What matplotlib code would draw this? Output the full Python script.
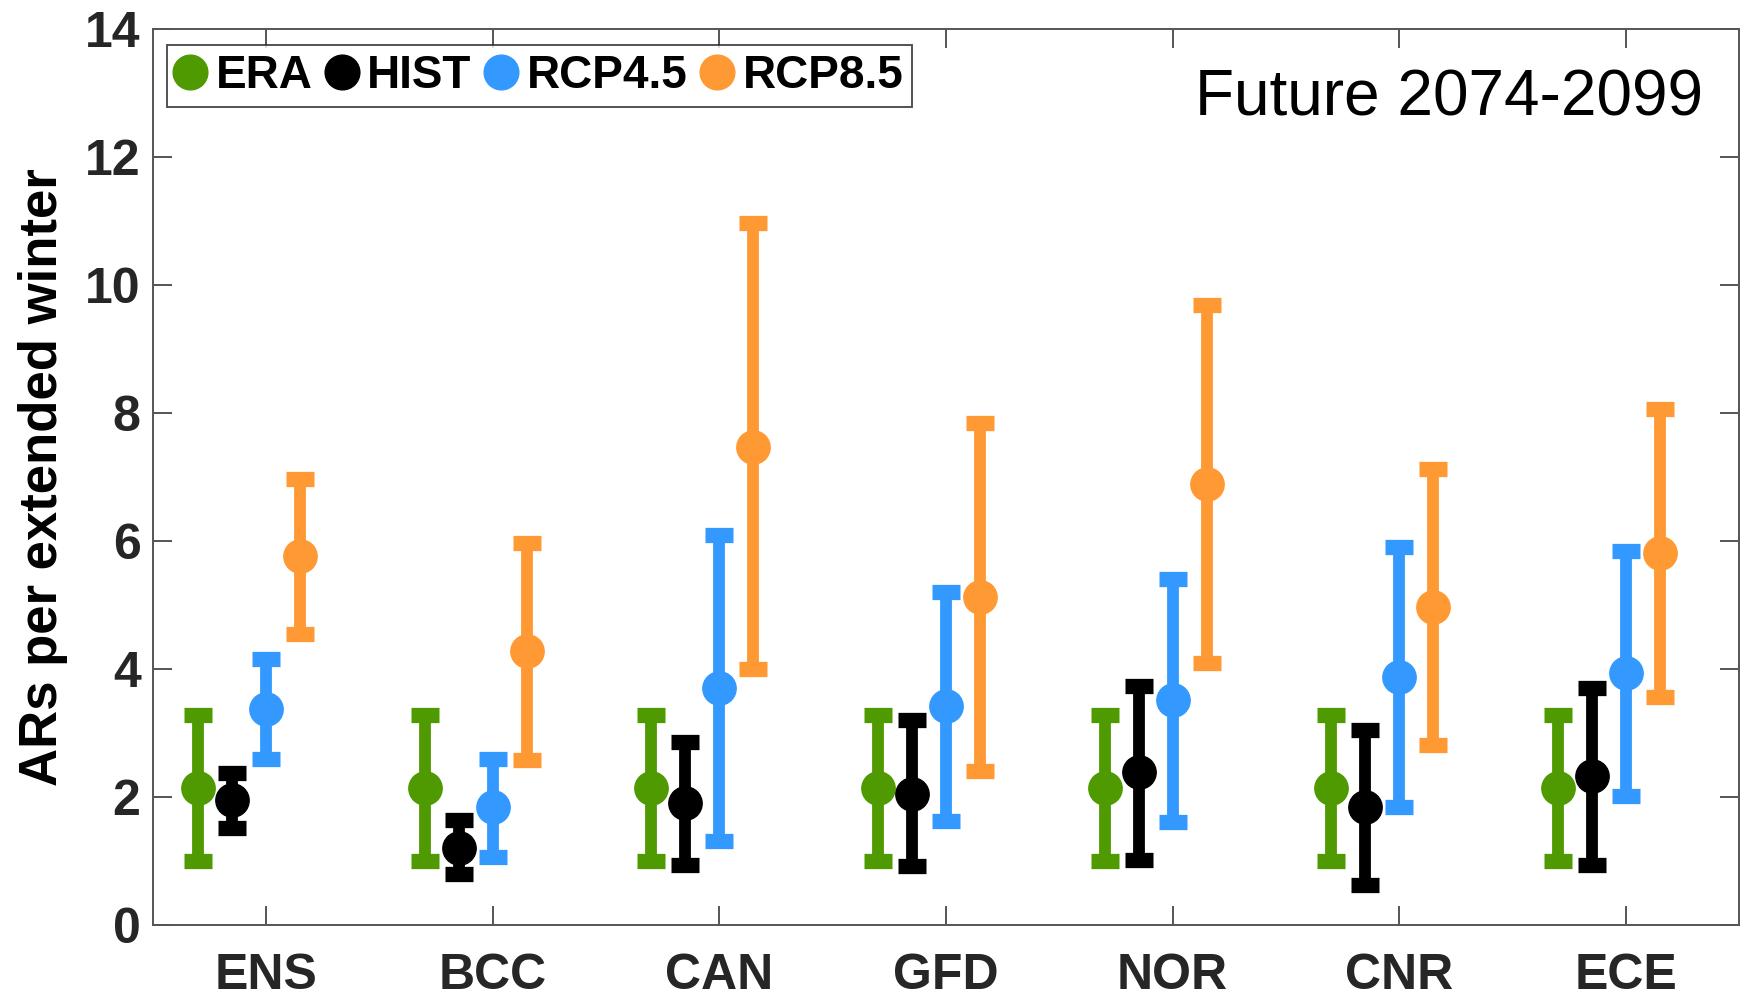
import numpy as np
import matplotlib
matplotlib.use("Agg")
import matplotlib.pyplot as plt
from matplotlib.lines import Line2D

plt.rcParams['font.family'] = ['Liberation Sans', 'DejaVu Sans']

# modelos
modelos = ['ENS', 'BCC', 'CAN', 'GFD', 'NOR', 'CNR', 'ECE']

# valor central, limite inferior y superior
era_c = [2.14, 2.14, 2.14, 2.14, 2.14, 2.14, 2.14]
era_lo = [1.0, 1.0, 1.0, 1.0, 1.0, 1.0, 1.0]
era_hi = [3.28, 3.28, 3.28, 3.28, 3.28, 3.28, 3.28]

hist_c = [1.95, 1.21, 1.90, 2.04, 2.39, 1.84, 2.33]
hist_lo = [1.52, 0.79, 0.93, 0.92, 1.01, 0.62, 0.94]
hist_hi = [2.37, 1.64, 2.86, 3.21, 3.74, 3.04, 3.71]

rcp45_c = [3.38, 1.84, 3.71, 3.42, 3.51, 3.88, 3.93]
rcp45_lo = [2.59, 1.07, 1.32, 1.62, 1.61, 1.84, 2.01]
rcp45_hi = [4.16, 2.60, 6.09, 5.21, 5.41, 5.91, 5.85]

rcp85_c = [5.77, 4.28, 7.47, 5.13, 6.89, 4.97, 5.82]
rcp85_lo = [4.54, 2.58, 4.00, 2.41, 4.10, 2.81, 3.56]
rcp85_hi = [6.97, 5.97, 10.97, 7.85, 9.68, 7.13, 8.06]

series = [
    ('ERA', era_c, era_lo, era_hi, '#4E9A00', -0.30),
    ('HIST', hist_c, hist_lo, hist_hi, '#000000', -0.15),
    ('RCP4.5', rcp45_c, rcp45_lo, rcp45_hi, '#3399FF', 0.0),
    ('RCP8.5', rcp85_c, rcp85_lo, rcp85_hi, '#FF9933', 0.15),
]

fig = plt.figure(figsize=(17.48, 10.02), dpi=100)
ax = fig.add_axes([153/1748, 1 - 925/1002, (1739-153)/1748, (925-29)/1002])

x = np.arange(1, len(modelos) + 1)
handles = []
for nombre, c, lo, hi, color, off in series:
    c = np.array(c)
    err = [c - np.array(lo), np.array(hi) - c]
    ax.errorbar(x + off, c, yerr=err, fmt='o', color=color, ms=24,
                elinewidth=8.5, capsize=10, capthick=11)
    handles.append(Line2D([], [], marker='o', ls='none', color=color, ms=25))

ax.set_xlim(0.5, 7.5)
ax.set_ylim(0, 14)
ax.set_xticks(x)
ax.set_xticklabels(modelos)
ax.set_yticks(np.arange(0, 15, 2))

for s in ax.spines.values():
    s.set_color('#555555')
    s.set_linewidth(1.4)
ax.tick_params(direction='in', length=14, width=1.4, color='#555555',
               top=True, right=True, labelsize=36, labelcolor='#262626')
ax.tick_params(axis='x', pad=20)
ax.tick_params(axis='y', pad=9)
for lab in ax.get_xticklabels() + ax.get_yticklabels():
    lab.set_fontweight('bold')

ax.set_ylabel('ARs per extended winter', fontsize=38, fontweight='bold',
              labelpad=12)

ax.text(0.977, 0.904, 'Future 2074-2099', transform=ax.transAxes,
        ha='right', va='baseline', fontsize=46)

leg = ax.legend(handles, [s[0] for s in series], ncol=4, loc='upper left',
                bbox_to_anchor=(0.009, 0.982), prop={'size': 33, 'weight': 'bold'},
                handlelength=0.6, handletextpad=0.25, columnspacing=0.35,
                borderpad=0.2, borderaxespad=0, fancybox=False, frameon=True)
leg.get_frame().set_edgecolor('#262626')
leg.get_frame().set_linewidth(1.4)

fig.savefig('out.png', dpi=100)
